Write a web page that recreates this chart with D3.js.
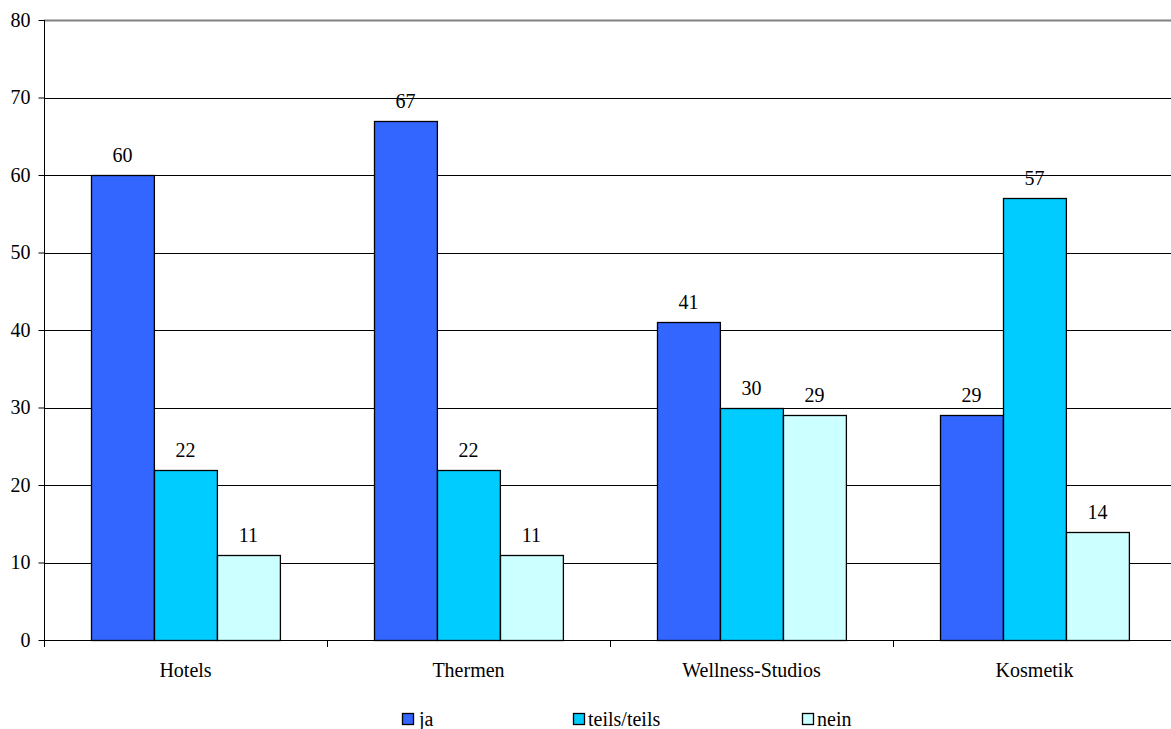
<!DOCTYPE html>
<html><head><meta charset="utf-8"><script src="https://cdn.jsdelivr.net/npm/d3@7"></script></head>
<body style="margin:0">
<svg id="chart" width="1171" height="729"></svg>
<script>
const categories = ["Hotels", "Thermen", "Wellness-Studios", "Kosmetik"];
const seriesNames = ["ja", "teils/teils", "nein"];
const jaValues = [60, 67, 41, 29];
const teilsValues = [22, 22, 30, 57];
const neinValues = [11, 11, 29, 14];
const yTicks = [0, 10, 20, 30, 40, 50, 60, 70, 80];
const colors = ["#3366FF", "#00CCFF", "#CCFFFF"];

const seriesValues = [jaValues, teilsValues, neinValues];
const svg = d3.select("#chart");
const pLeft = 44, pRight = 1176, pTop = 20, pBottom = 640;
const SERIF = '"Times New Roman", Tinos, "Liberation Serif", FreeSerif, serif';

const x = d3.scaleBand().domain(categories).range([pLeft, pRight]).paddingInner(0).paddingOuter(0);
const xs = d3.scaleBand().domain(seriesNames).range([0, x.bandwidth()]).paddingInner(0).paddingOuter(0.75);
const y = d3.scaleLinear().domain([0, 80]).range([pBottom, pTop]);

function serif(sel) {
  return sel.attr("font-family", SERIF).style("font-family", SERIF).attr("font-size", 20).attr("fill", "#000");
}

// gridlines
svg.append("g").selectAll("line").data(yTicks.filter(t => t > 0)).join("line")
  .attr("x1", pLeft).attr("x2", pRight)
  .attr("y1", d => Math.round(y(d)) + 0.5).attr("y2", d => Math.round(y(d)) + 0.5)
  .attr("stroke", d => d === 80 ? "#808080" : "#000")
  .attr("stroke-width", d => d === 80 ? 2 : 1);

// y axis
const yAxis = d3.axisLeft(y).tickValues(yTicks).tickSize(6).tickPadding(8).tickSizeOuter(0);
const gy = svg.append("g").attr("transform", `translate(${pLeft + 0.5},0)`).call(yAxis);
gy.attr("font-family", SERIF).attr("font-size", 20);
gy.select(".domain").attr("d", `M0,${pTop}V${pBottom + 7}`).attr("stroke", "#000");
gy.selectAll(".tick line").attr("stroke", "#000");
serif(gy.selectAll(".tick text")).attr("dy", "0.32em");

// bars
const groups = svg.append("g").selectAll("g").data(categories).join("g")
  .attr("transform", d => `translate(${x(d)},0)`);

groups.each(function(cat, ci) {
  const g = d3.select(this);
  const data = seriesNames.map((s, si) => ({ s, si, v: seriesValues[si][ci] }));
  g.selectAll("rect").data(data).join("rect")
    .attr("x", d => Math.round(xs(d.s)) + 0.5)
    .attr("y", d => Math.round(y(d.v)) + 0.5)
    .attr("width", xs.bandwidth())
    .attr("height", d => Math.round(y(0)) - Math.round(y(d.v)))
    .attr("fill", d => colors[d.si])
    .attr("stroke", "#000").attr("stroke-width", 1.3);
  serif(g.selectAll("text.val").data(data).join("text").attr("class", "val")
    .attr("x", d => xs(d.s) + xs.bandwidth() / 2)
    .attr("y", d => y(d.v) - 13)
    .attr("text-anchor", "middle"))
    .text(d => d.v);
});

// x axis
const xAxis = d3.axisBottom(x).tickSize(0).tickPadding(0).tickSizeOuter(0);
const gx = svg.append("g").attr("transform", `translate(0,${pBottom + 0.5})`).call(xAxis);
gx.attr("font-family", SERIF).attr("font-size", 20);
gx.select(".domain").attr("d", `M${pLeft},0H${pRight}`).attr("stroke", "#000");
serif(gx.selectAll(".tick text")).attr("y", 36).attr("dy", 0);
// category separator ticks
svg.append("g").selectAll("line").data(categories.slice(1)).join("line")
  .attr("x1", d => Math.round(x(d)) + 0.5).attr("x2", d => Math.round(x(d)) + 0.5)
  .attr("y1", pBottom).attr("y2", pBottom + 7).attr("stroke", "#000");

// legend
const legendX = [402, 573, 802];
const lg = svg.append("g").selectAll("g").data(seriesNames).join("g")
  .attr("transform", (d, i) => `translate(${legendX[i]},713)`);
lg.append("rect").attr("x", 0.5).attr("y", 0.5).attr("width", 11).attr("height", 11)
  .attr("fill", (d, i) => colors[i]).attr("stroke", "#000").attr("stroke-width", 1.3);
serif(lg.append("text").attr("x", (d, i) => i === 0 ? 17 : 15).attr("y", 13)).text(d => d);
</script></body></html>
